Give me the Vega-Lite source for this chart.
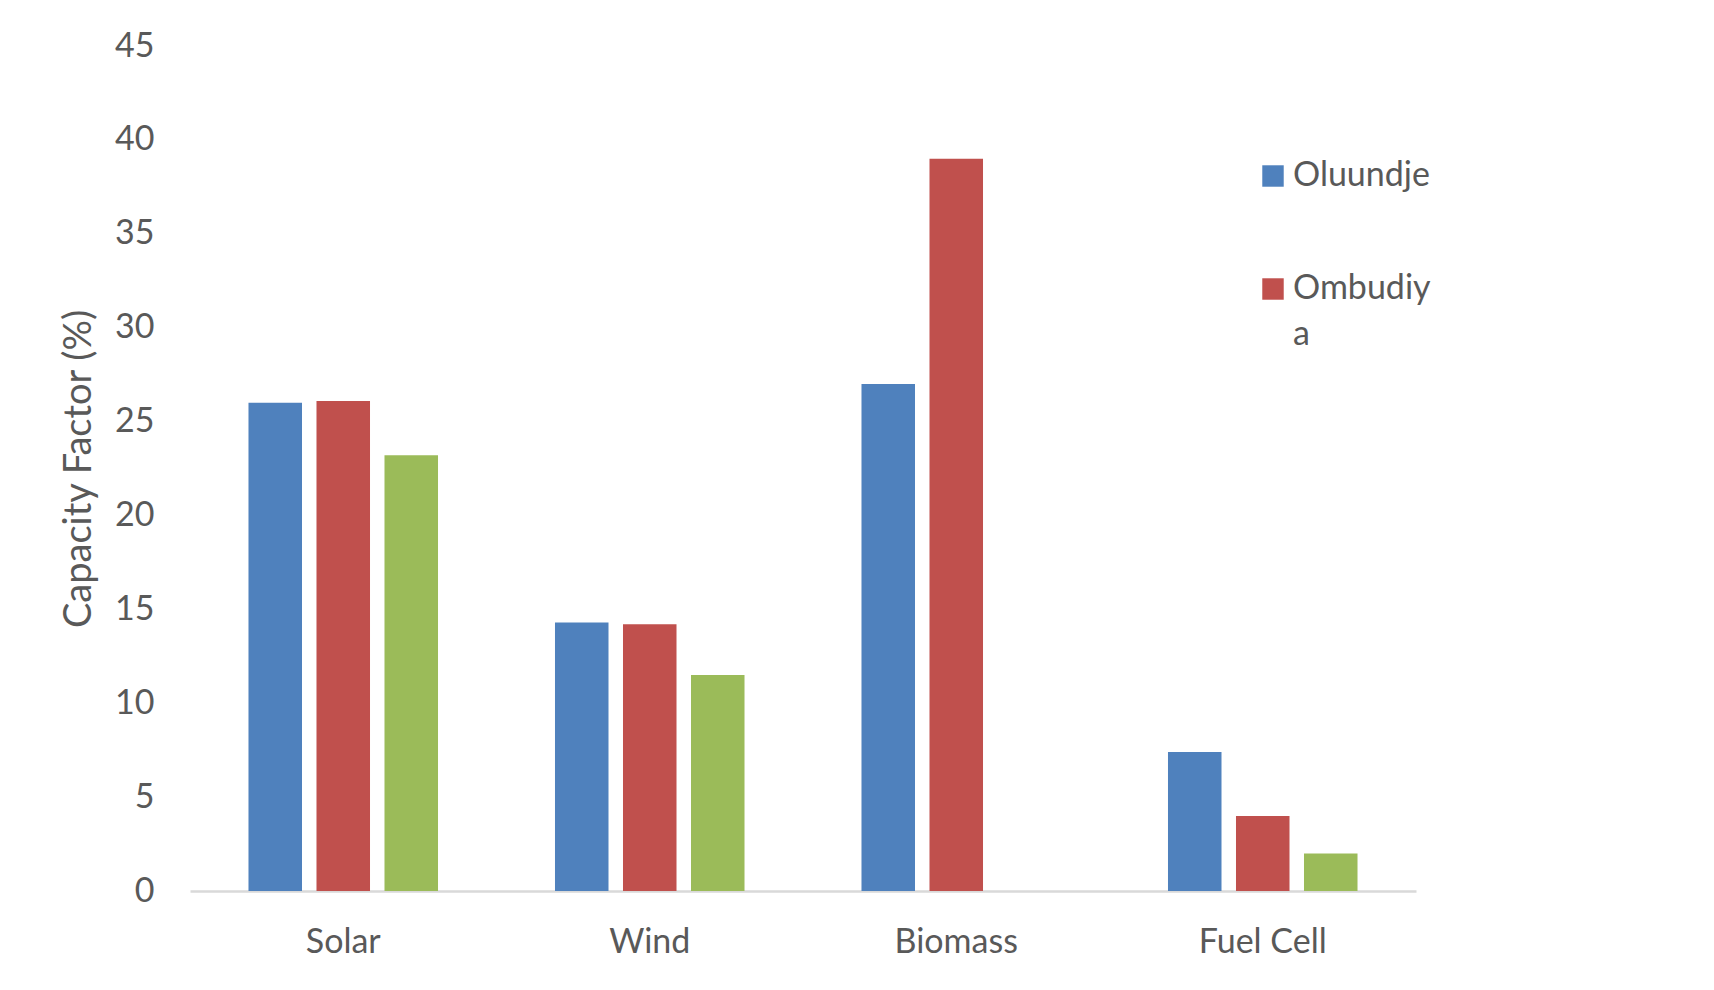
{
  "$schema": "https://vega.github.io/schema/vega-lite/v6.json",
  "autosize": "none",
  "padding": {"left": 190, "top": 46, "right": 298, "bottom": 99},
  "width": 1226,
  "height": 845,
  "background": "white",
  "data": {
    "values": [
      {"source": "Solar", "site": "Oluundje", "cf": 26.0},
      {"source": "Solar", "site": "Ombudiya", "cf": 26.1},
      {"source": "Solar", "site": "Site 3", "cf": 23.2},
      {"source": "Wind", "site": "Oluundje", "cf": 14.3},
      {"source": "Wind", "site": "Ombudiya", "cf": 14.2},
      {"source": "Wind", "site": "Site 3", "cf": 11.5},
      {"source": "Biomass", "site": "Oluundje", "cf": 27.0},
      {"source": "Biomass", "site": "Ombudiya", "cf": 39.0},
      {"source": "Fuel Cell", "site": "Oluundje", "cf": 7.4},
      {"source": "Fuel Cell", "site": "Ombudiya", "cf": 4.0},
      {"source": "Fuel Cell", "site": "Site 3", "cf": 2.0}
    ]
  },
  "mark": "bar",
  "encoding": {
    "x": {
      "field": "source",
      "type": "nominal",
      "sort": ["Solar", "Wind", "Biomass", "Fuel Cell"],
      "scale": {"paddingInner": 0, "paddingOuter": 0},
      "axis": {
        "title": null,
        "labelAngle": 0,
        "ticks": false,
        "tickSize": 0,
        "labelPadding": 34,
        "domainColor": "#d9d9d9",
        "domainWidth": 2.5
      }
    },
    "xOffset": {
      "field": "site",
      "type": "nominal",
      "sort": ["Oluundje", "Ombudiya", "Site 3"],
      "scale": {"paddingInner": 0.213, "paddingOuter": 0.86}
    },
    "y": {
      "field": "cf",
      "type": "quantitative",
      "scale": {"domain": [0, 45], "nice": false},
      "axis": {
        "title": "Capacity Factor (%)",
        "values": [0, 5, 10, 15, 20, 25, 30, 35, 40, 45],
        "grid": false,
        "domain": false,
        "ticks": false,
        "tickSize": 0,
        "labelPadding": 36,
        "titlePadding": 16,
        "titleFontSize": 38
      }
    },
    "color": {
      "field": "site",
      "type": "nominal",
      "scale": {
        "domain": ["Oluundje", "Ombudiya", "Site 3"],
        "range": ["#4f81bd", "#c0504d", "#9bbb59"]
      },
      "legend": {
        "title": null,
        "values": ["Oluundje", "Ombudiya"],
        "orient": "none",
        "legendX": 1066,
        "legendY": 113,
        "symbolType": "square",
        "symbolSize": 460,
        "symbolStrokeWidth": 0,
        "labelOffset": 3,
        "rowPadding": 79,
        "padding": 0,
        "labelExpr": "datum.label == 'Ombudiya' ? ['Ombudiy', 'a'] : datum.label"
      }
    }
  },
  "config": {
    "view": {"stroke": null},
    "font": "Lato",
    "style": {"guide-label": {"lineHeight": 46}},
    "axis": {
      "labelFont": "Lato",
      "labelFontSize": 34,
      "labelColor": "#595959",
      "titleFont": "Lato",
      "titleFontSize": 34,
      "titleFontWeight": "normal",
      "titleColor": "#595959"
    },
    "legend": {
      "labelFont": "Lato",
      "labelFontSize": 34,
      "labelColor": "#595959",
      "labelLimit": 300
    }
  }
}
